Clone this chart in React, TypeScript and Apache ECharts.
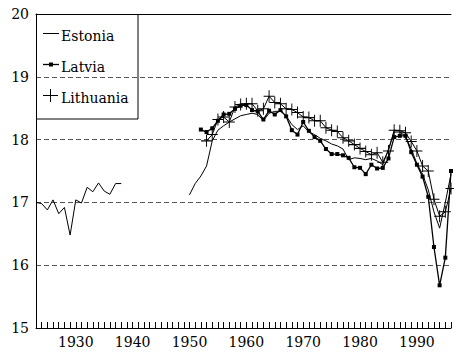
import React, { useEffect, useRef } from "react";
import * as echarts from "echarts";

const FONT = "DejaVu Serif";

const seriesNames = ["Estonia", "Latvia", "Lithuania"];

// Estonia, inter-war years (first year 1923)
const estoniaPrewarStart = 1923;
const estoniaPrewar = [17.0, 16.98, 16.88, 17.04, 16.82, 16.92, 16.48, 17.04, 16.99, 17.24, 17.17, 17.31, 17.18, 17.13, 17.3, 17.3];

// Estonia, post-war years (first year 1950)
const estoniaPostwarStart = 1950;
const estoniaPostwar = [
  17.12, 17.3, 17.42, 17.58, 17.98, 18.15, 18.22, 18.28, 18.33, 18.38,
  18.4, 18.42, 18.4, 18.3, 18.42, 18.45, 18.45, 18.38, 18.24, 18.16,
  18.22, 18.12, 18.08, 18.02, 17.98, 17.93, 17.9, 17.85, 17.68, 17.71,
  17.7, 17.68, 17.7, 17.66, 17.6, 17.85, 18.12, 18.12, 18.05, 17.85,
  17.62, 17.45, 17.2, 16.85, 16.59, 17.0, 17.45,
];

// Latvia (first year 1952)
const latviaStart = 1952;
const latvia = [
  18.16, 18.12, 18.18, 18.3, 18.4, 18.41, 18.49, 18.54, 18.55, 18.47,
  18.45, 18.32, 18.46, 18.4, 18.47, 18.37, 18.15, 18.08, 18.28, 18.14,
  18.04, 17.98, 17.85, 17.77, 17.77, 17.75, 17.71, 17.56, 17.55, 17.45,
  17.6, 17.54, 17.55, 17.7, 18.04, 18.06, 18.06, 17.8, 17.6, 17.41,
  17.09, 16.29, 15.68, 16.12, 17.5,
];

// Lithuania (first year 1953)
const lithuaniaStart = 1953;
const lithuania = [
  17.98, 18.08, 18.32, 18.36, 18.28, 18.52, 18.56, 18.57, 18.57, 18.46,
  18.49, 18.69, 18.59, 18.57, 18.49, 18.48, 18.43, 18.36, 18.35, 18.3,
  18.3, 18.19, 18.15, 18.13, 18.03, 17.98, 17.92, 17.86, 17.81, 17.76,
  17.79, 17.64, 17.82, 18.15, 18.14, 18.11, 17.97, 17.82, 17.58, 17.5,
  17.05, 16.78, 16.85, 17.22,
];

const xMin = 1923;
const xMax = 1996;
const xLabelStep = 10;
const yMin = 15;
const yMax = 20;
const yStep = 1;

function pairs(start: number, vals: number[]): (number | string)[][] {
  return vals.map((v, i) => [start + i, v]);
}

export default function App() {
  const ref = useRef<HTMLDivElement>(null);
  useEffect(() => {
    if (!ref.current) return;
    const chart = echarts.init(ref.current, undefined, { renderer: "svg" });

    const estoniaData = [
      ...pairs(estoniaPrewarStart, estoniaPrewar),
      [estoniaPrewarStart + estoniaPrewar.length, "-"],
      ...pairs(estoniaPostwarStart, estoniaPostwar),
    ];

    const legendX = 43;
    const legendRows = [33, 64, 95];

    chart.setOption({
      animation: false,
      backgroundColor: "#fff",
      grid: { left: 36, right: 0, top: 14, bottom: 24, containLabel: false },
      xAxis: [
        {
          type: "value",
          min: xMin,
          max: xMax,
          interval: 1,
          axisLine: { show: true, onZero: false, lineStyle: { color: "#000", width: 1 } },
          axisTick: { show: true, inside: false, length: -6, lineStyle: { color: "#000", width: 1 } },
          axisLabel: {
            show: true,
            margin: 7,
            color: "#000",
            fontFamily: FONT,
            fontSize: 14,
            formatter: (v: number) => (v % xLabelStep === 0 ? String(v) : ""),
          },
          splitLine: { show: false },
        },
        {
          type: "value",
          position: "top",
          min: xMin,
          max: xMax,
          interval: 1,
          axisLine: { show: true, onZero: false, lineStyle: { color: "#000", width: 1 } },
          axisTick: { show: false },
          axisLabel: { show: false },
          splitLine: { show: false },
        },
      ],
      yAxis: {
        type: "value",
        min: yMin,
        max: yMax,
        interval: yStep,
        axisLine: { show: true, lineStyle: { color: "#000", width: 1 } },
        axisTick: { show: false },
        axisLabel: { color: "#000", fontFamily: FONT, fontSize: 14, margin: 7 },
        splitLine: { show: true, lineStyle: { color: "#555", type: [5, 3], width: 1 } },
      },
      series: [
        {
          name: seriesNames[0],
          type: "line",
          data: estoniaData,
          connectNulls: false,
          symbol: "none",
          lineStyle: { color: "#000", width: 1 },
          z: 3,
        },
        {
          name: seriesNames[1],
          type: "line",
          data: pairs(latviaStart, latvia),
          symbol: "rect",
          symbolSize: 4,
          itemStyle: { color: "#000" },
          lineStyle: { color: "#000", width: 1.3 },
          z: 4,
        },
        {
          name: seriesNames[2],
          type: "line",
          data: pairs(lithuaniaStart, lithuania),
          symbol: "path://M0,6L12,6M6,0L6,12",
          symbolSize: [11, 12],
          itemStyle: { color: "#000", borderColor: "#000", borderWidth: 1 },
          lineStyle: { color: "#000", width: 1 },
          z: 5,
        },
      ],
      graphic: [
        {
          type: "group",
          z: 100,
          children: [
            {
              type: "rect",
              shape: { x: 36.5, y: 14.5, width: 101.5, height: 104.5 },
              style: { fill: "#fff", stroke: "#000", lineWidth: 1 },
            },
            {
              type: "line",
              shape: { x1: legendX, y1: legendRows[0] + 0.5, x2: legendX + 16, y2: legendRows[0] + 0.5 },
              style: { stroke: "#000", lineWidth: 1 },
            },
            {
              type: "line",
              shape: { x1: legendX, y1: legendRows[1] + 0.5, x2: legendX + 16, y2: legendRows[1] + 0.5 },
              style: { stroke: "#000", lineWidth: 1.3 },
            },
            {
              type: "rect",
              shape: { x: legendX + 6, y: legendRows[1] - 1.5, width: 4, height: 4 },
              style: { fill: "#000" },
            },
            {
              type: "line",
              shape: { x1: legendX, y1: legendRows[2] + 0.5, x2: legendX + 15, y2: legendRows[2] + 0.5 },
              style: { stroke: "#000", lineWidth: 1 },
            },
            {
              type: "line",
              shape: { x1: legendX + 7.5, y1: legendRows[2] - 6, x2: legendX + 7.5, y2: legendRows[2] + 7 },
              style: { stroke: "#000", lineWidth: 1 },
            },
            ...seriesNames.map((n, i) => ({
              type: "text",
              x: 61,
              y: legendRows[i] + 3,
              style: {
                text: n,
                fill: "#000",
                fontFamily: FONT,
                fontSize: 14,
                verticalAlign: "middle",
              },
            })),
          ],
        },
      ],
    });
    return () => chart.dispose();
  }, []);
  return <div ref={ref} style={{ position: "absolute", left: 0, top: 0, width: 454, height: 352 }} />;
}
